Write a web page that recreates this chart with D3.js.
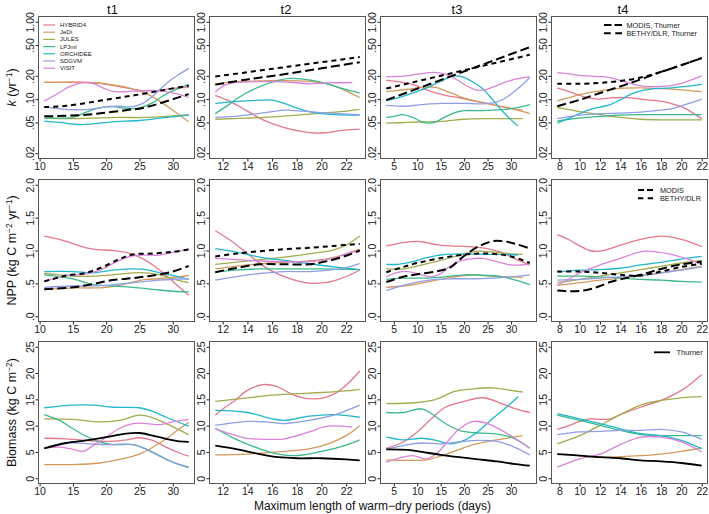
<!DOCTYPE html>
<html><head><meta charset="utf-8">
<script src="https://cdn.jsdelivr.net/npm/d3@7"></script>
<style>
body{margin:0;background:#fff}
svg{display:block}
text{font-family:"Liberation Sans",Arial,Helvetica,sans-serif}
</style></head>
<body><svg id="c" width="709" height="514"></svg>
<script>
// ---------------- data ----------------
const models = ["HYBRID4","JeDi","JULES","LPJml","ORCHIDEE","SDGVM","VISIT"];
const modelColors = ["#E5788C","#D39A5C","#A4AB4E","#3BB98B","#22B7CB","#8F9EE8","#DA82DA"];
const periods = ["t1","t2","t3","t4"];
const xExtents = [[10.7,32.4],[11.4,23.1],[3.4,34.2],[7.8,22]];
const xTickValues = [[10,15,20,25,30],[12,14,16,18,20,22],[5,10,15,20,25,30],[8,10,12,14,16,18,20,22]];
const kTicks = [0.02,0.05,0.1,0.2,0.5,1];
const kTickLabels = [".02",".05",".10",".20",".50","1.00"];
const nppTicks = [0,0.5,1,1.5,2];
const nppTickLabels = [".0",".5","1.0","1.5","2.0"];
const bioTicks = [0,5,10,15,20,25];
const bioTickLabels = ["0","5","10","15","20","25"];

// k (turnover rate, yr-1)
const k_t1 = {
 HYBRID4:[[10.7,.165],[13,.165],[16,.166],[18,.163],[20,.155],[22,.145],[24,.135],[26,.128],[28,.13],[30,.138],[32.4,.142]],
 JeDi:[[10.7,.165],[13,.165],[16,.165],[18,.163],[20,.158],[22,.148],[24,.135],[26,.118],[28,.095],[30,.072],[32.4,.051]],
 JULES:[[10.7,.057],[14,.056],[18,.057],[22,.058],[26,.058],[29,.06],[32.4,.063]],
 LPJml:[[10.7,.057],[13,.057],[15,.058],[17,.068],[19,.077],[21,.08],[23,.076],[25,.077],[27,.09],[28.5,.11],[30,.128],[32.4,.155]],
 ORCHIDEE:[[10.7,.052],[13,.05],[16,.047],[18,.048],[21,.051],[25,.053],[29,.058],[32.4,.062]],
 SDGVM:[[10.7,.08],[13,.075],[16,.073],[18,.075],[20,.08],[22,.081],[24,.08],[25.5,.088],[27,.11],[28.5,.145],[30,.185],[31.2,.215],[32.4,.25]],
 VISIT:[[10.7,.095],[12.5,.115],[14.5,.145],[16.5,.163],[18,.16],[19.5,.14],[21,.126],[23,.125],[25,.128],[27,.13],[29,.125],[31,.115],[32.4,.105]],
 MODIS:[[10.7,.06],[14,.061],[17,.063],[20,.067],[23,.072],[25.5,.077],[28,.088],[30.5,.103],[32.4,.116]],
 BETHY:[[10.7,.079],[14,.082],[20.5,.1],[25,.115],[29,.133],[32.4,.149]]
};
const k_t2 = {
 HYBRID4:[[11.4,.112],[12.5,.095],[13.5,.078],[14.5,.063],[15.5,.052],[17,.043],[18.5,.038],[19.5,.0365],[20.5,.037],[22,.04],[23.1,.041]],
 JeDi:[[11.4,.157],[13,.168],[15,.172],[17,.174],[19,.17],[20,.163],[21,.148],[22,.128],[23.1,.105]],
 JULES:[[11.4,.055],[14,.057],[16,.059],[18,.062],[20,.066],[22,.07],[23.1,.074]],
 LPJml:[[11.4,.065],[12.5,.085],[13.5,.11],[15,.145],[16.5,.175],[17.5,.185],[18.5,.182],[20,.165],[21.5,.14],[23.1,.12]],
 ORCHIDEE:[[11.4,.088],[13,.093],[15,.097],[16,.097],[17,.088],[18,.077],[19,.069],[20,.065],[21,.063],[23.1,.062]],
 SDGVM:[[11.4,.058],[13,.06],[14.5,.064],[16,.069],[17,.072],[18.5,.07],[20,.067],[21.5,.065],[23.1,.063]],
 VISIT:[[11.4,.124],[12.3,.155],[13.5,.166],[16,.168],[18,.163],[19,.158],[20.5,.162],[22.5,.164]],
 MODIS:[[11.4,.154],[14,.18],[17,.21],[20,.25],[23.1,.30]],
 BETHY:[[11.4,.196],[17.25,.262],[23.1,.35]]
};
const k_t3 = {
 HYBRID4:[[3.4,.175],[6,.168],[9,.155],[11,.14],[13,.125],[16,.112],[19,.104],[22,.096],[25,.088],[28,.08],[31,.074],[32.5,.072]],
 JeDi:[[3.4,.125],[6,.13],[9,.137],[12,.143],[14,.142],[16,.128],[18,.115],[20,.103],[23,.092],[26,.085],[29,.078],[31,.073],[34,.065]],
 JULES:[[3.4,.049],[8,.05],[12,.051],[16,.052],[20,.055],[25,.056],[32.5,.056]],
 LPJml:[[3.4,.058],[5,.06],[7,.063],[9,.058],[11,.051],[12.5,.049],[14,.051],[16,.059],[18,.067],[20,.071],[24,.071],[28,.073],[31,.077],[34,.085]],
 ORCHIDEE:[[3.4,.096],[6,.105],[9,.12],[12,.14],[15,.17],[17.5,.198],[19.5,.196],[22,.165],[24,.135],[26,.1],[28,.072],[30,.054],[31.5,.045]],
 SDGVM:[[3.4,.083],[7,.081],[11,.085],[15,.088],[20,.088],[24,.087],[27,.092],[29,.105],[31,.13],[32.5,.155],[34,.19]],
 VISIT:[[3.4,.195],[7,.198],[10,.21],[13.5,.222],[16,.21],[18,.185],[20,.155],[22,.135],[23.5,.13],[25,.135],[27,.15],[30,.175],[34,.195]],
 MODIS:[[3.4,.097],[34,.47]],
 BETHY:[[3.4,.137],[34,.374]]
};
const k_t4 = {
 HYBRID4:[[7.8,.14],[9,.125],[10,.112],[11,.103],[12,.1],[13,.104],[14,.105],[15,.104],[16,.1],[17,.097],[18,.094],[19,.088],[20,.08],[21,.068],[22,.056]],
 JeDi:[[7.8,.095],[9,.105],[10,.114],[11,.122],[12,.128],[13,.133],[14,.138],[16,.14],[18,.137],[20,.132],[22,.125]],
 JULES:[[7.8,.078],[9,.073],[10,.069],[12,.063],[14,.058],[16,.055],[18,.054],[20,.054],[22,.054]],
 LPJml:[[7.8,.052],[9,.055],[10,.057],[12,.06],[14,.062],[16,.063],[18,.063],[20,.063],[22,.063]],
 ORCHIDEE:[[7.8,.049],[9,.057],[10,.065],[11,.073],[12,.079],[13,.085],[14,.098],[15,.115],[16,.128],[17,.135],[18,.138],[19,.14],[20.5,.146],[22,.155]],
 SDGVM:[[7.8,.056],[10,.062],[12,.065],[14,.066],[16,.068],[18,.072],[19,.075],[20,.082],[21,.09],[22,.1]],
 VISIT:[[7.8,.22],[9,.212],[10,.203],[12,.196],[13,.19],[14,.175],[15,.16],[16,.148],[17,.145],[18,.146],[19,.15],[20,.16],[21,.178],[22,.2]],
 MODIS:[[7.8,.081],[10,.098],[12,.12],[14,.146],[16,.18],[18,.225],[20,.275],[22,.34]],
 BETHY:[[7.8,.158],[10,.158],[12,.162],[14,.172],[16,.19],[18,.225],[20,.275],[22,.34]]
};

// NPP (kg C m-2 yr-1)
const npp_t1 = {
 HYBRID4:[[10.7,1.22],[12.5,1.18],[14,1.14],[16,1.07],[18,1.02],[21,1.0],[23,.97],[25,.9],[27,.78],[29,.62],[31,.44],[32.4,.32]],
 JeDi:[[10.7,.41],[13,.42],[15,.43],[18,.43],[20,.44],[22,.47],[24,.52],[26,.56],[28,.57],[30,.59],[32.4,.62]],
 JULES:[[10.7,.65],[13,.63],[15,.61],[18,.61],[21,.63],[24,.66],[26,.66],[28,.63],[30,.57],[32.4,.51]],
 LPJml:[[10.7,.63],[13,.6],[15,.57],[17,.51],[18,.48],[21,.46],[24,.44],[27,.41],[30,.38],[32.4,.37]],
 ORCHIDEE:[[10.7,.68],[15,.68],[18,.66],[21,.7],[24,.72],[26,.71],[28,.66],[30,.62],[32.4,.56]],
 SDGVM:[[10.7,.44],[15,.46],[20,.47],[24,.51],[28,.55],[32.4,.57]],
 VISIT:[[10.7,.53],[12.5,.58],[14,.62],[17,.64],[19,.7],[21,.8],[22.5,.87],[24,.92],[26,.93],[28,.93],[30,.97],[32.4,1.02]],
 MODIS:[[10.7,.41],[15,.44],[18,.49],[21,.55],[24,.58],[27,.62],[30,.68],[32.4,.765]],
 BETHY:[[10.7,.53],[12.5,.58],[14,.62],[17,.66],[19.5,.75],[22,.87],[24,.94],[27,.955],[30,.98],[32.4,1.015]]
};
const npp_t2 = {
 HYBRID4:[[11.4,1.30],[12.5,1.17],[13.5,1.03],[14.5,.88],[15.5,.74],[16.5,.64],[17.5,.57],[18.5,.52],[19.3,.5],[20.3,.51],[21.5,.57],[22.3,.63],[23.1,.7]],
 JeDi:[[11.4,.72],[13,.76],[14.5,.79],[16,.81],[18,.83],[20,.86],[21.5,.92],[23.1,1.02]],
 JULES:[[11.4,.79],[13,.82],[15,.86],[17,.9],[19,.95],[21,1.01],[22,1.08],[23.1,1.22]],
 LPJml:[[11.4,.67],[13,.7],[15,.72],[17,.72],[20,.72],[23.1,.71]],
 ORCHIDEE:[[11.4,1.03],[13,.98],[15,.9],[17,.85],[19,.8],[21,.75],[23.1,.71]],
 SDGVM:[[11.4,.55],[13,.6],[15,.65],[17,.68],[19,.68],[21,.71],[22,.74],[23.1,.8]],
 VISIT:[[11.4,.88],[13,.86],[15,.84],[17,.83],[19,.83],[20,.85],[21,.88],[22,.95],[23.1,1.0]],
 MODIS:[[11.4,.67],[13,.73],[15,.79],[17,.79],[19,.79],[20.5,.84],[22,.92],[23.1,1.0]],
 BETHY:[[11.4,.91],[13,.95],[15,.99],[17,1.02],[19,1.04],[21,1.07],[23.1,1.1]]
};
const npp_t3 = {
 HYBRID4:[[3.4,1.07],[7,1.12],[10,1.14],[12,1.12],[14,1.09],[17,1.07],[21,1.06],[25,1.03],[28,.97],[31,.87],[34,.78]],
 JeDi:[[3.4,.44],[7,.46],[10,.49],[14,.55],[18,.6],[22,.63],[26,.61],[30,.6],[32.5,.59]],
 JULES:[[3.4,.72],[7,.72],[11,.78],[15,.85],[19,.93],[23,.99],[27,.97],[30,.95],[32.5,.94]],
 LPJml:[[3.4,.56],[7,.58],[12,.58],[16,.6],[20,.63],[25,.62],[28,.6],[31,.55],[34,.48]],
 ORCHIDEE:[[3.4,.79],[6,.79],[9,.83],[12,.89],[16,.94],[20,.95],[25,.94],[29,.94],[31.5,.93]],
 SDGVM:[[3.4,.39],[7,.47],[10,.52],[14,.56],[18,.57],[22,.57],[26,.58],[30,.6],[34,.63]],
 VISIT:[[3.4,.6],[6,.67],[8,.68],[10,.65],[13,.6],[15,.65],[17,.76],[19,.84],[21,.87],[24,.88],[27,.83],[30,.78],[34,.79]],
 MODIS:[[3.4,.52],[7,.6],[10,.64],[14,.68],[17,.74],[19,.86],[21,.97],[23,1.06],[26,1.14],[28.5,1.14],[31,1.1],[34,1.03]],
 BETHY:[[3.4,.67],[7,.75],[10,.81],[14,.87],[18,.92],[22,.95],[26,.95],[30,.91],[34,.81]]
};
const npp_t4 = {
 HYBRID4:[[7.8,1.24],[9,1.16],[10,1.07],[11,1.0],[12,.99],[13,1.03],[14,1.08],[16,1.17],[18,1.22],[20,1.17],[22,1.06]],
 JeDi:[[7.8,.47],[10,.51],[12,.55],[14,.58],[16,.62],[18,.66],[20,.71],[22,.76]],
 JULES:[[7.8,.51],[10,.56],[12,.61],[14,.66],[16,.71],[18,.76],[20,.81],[22,.85]],
 LPJml:[[7.8,.61],[10,.61],[12,.6],[14,.58],[16,.56],[18,.55],[20,.53],[22,.52]],
 ORCHIDEE:[[7.8,.67],[10,.7],[12,.71],[14,.73],[16,.78],[18,.82],[20,.87],[22,.91]],
 SDGVM:[[7.8,.55],[10,.56],[12,.58],[14,.6],[16,.62],[18,.66],[20,.7],[22,.75]],
 VISIT:[[7.8,.47],[9,.57],[10,.66],[12,.78],[14,.88],[15.5,.96],[16.5,.99],[17.5,.98],[19,.94],[21,.85],[22,.79]],
 MODIS:[[7.8,.39],[9,.38],[10,.385],[11,.41],[12,.46],[13,.52],[14,.56],[16,.63],[18,.72],[20,.79],[22,.83]],
 BETHY:[[7.8,.68],[10,.68],[12,.66],[14,.63],[16,.62],[18,.68],[20,.75],[22,.8]]
};

// Biomass (kg C m-2)
const bio_t1 = {
 HYBRID4:[[10.7,7.6],[14,7.5],[17,7.2],[20,7.0],[23,7.3],[25,7.7],[27,7.2],[29,5.9],[31,4.8],[32.4,4.2]],
 JeDi:[[10.7,2.6],[15,2.6],[19,2.9],[22,3.6],[25,4.6],[27,5.9],[29,7.5],[31,9.4],[32.4,10.6]],
 JULES:[[10.7,11.3],[15,11.2],[19,10.7],[22,11.0],[25,12.0],[27,11.5],[29,10.4],[32.4,8.3]],
 LPJml:[[10.7,12.1],[13,11.0],[15,9.4],[17,8.0],[19,6.9],[21,6.4],[24,6.4],[26,5.6],[28,4.3],[30,3.05],[32.4,2.0]],
 ORCHIDEE:[[10.7,13.4],[15,13.9],[18,13.9],[21,13.5],[25,13.4],[27,12.7],[29,11.6],[32.4,9.9]],
 SDGVM:[[10.7,5.7],[14,6.7],[17,6.6],[20,6.4],[24,6.4],[26,5.5],[28,4.2],[30,3.05],[32.4,2.1]],
 VISIT:[[10.7,5.7],[13,5.9],[15,5.5],[16.5,5.1],[18,6.2],[20,7.8],[22,9.5],[24,10.4],[26,10.4],[28,10.2],[30,10.7],[32.4,11.2]],
 Thurner:[[10.7,5.7],[14,6.7],[17,7.2],[20,7.8],[23,8.5],[25,8.6],[27,8.1],[29,7.5],[31,7.0],[32.4,6.9]]
};
const bio_t2 = {
 HYBRID4:[[11.4,12.0],[12.2,13.5],[13,14.8],[14,16.7],[15.3,17.8],[16.3,17.5],[17.5,16.1],[18.5,15.3],[19.3,15.1],[20.2,15.3],[21,16.0],[22,17.7],[23.1,20.4]],
 JeDi:[[11.4,4.45],[14,4.6],[17,5.1],[19,5.6],[20.5,6.5],[22,8.1],[23.1,10.0]],
 JULES:[[11.4,14.6],[14,15.3],[16,15.8],[18,16.1],[20,16.3],[22,16.6],[23.1,16.9]],
 LPJml:[[11.4,9.5],[13,7.5],[15,5.6],[16.5,4.6],[18,4.3],[20,5.1],[22,6.3],[23.1,7.3]],
 ORCHIDEE:[[11.4,12.9],[14,12.5],[16,11.3],[17,11.0],[19,11.8],[21,12.1],[23.1,11.6]],
 SDGVM:[[11.4,10.05],[14,10.8],[15.5,10.7],[17,10.4],[19,11.0],[21,12.0],[23.1,13.9]],
 VISIT:[[11.4,9.4],[13,8.2],[14,7.6],[16,7.4],[17,7.5],[19,8.8],[20.5,9.9],[22.5,9.7]],
 Thurner:[[11.4,6.2],[13,5.6],[15,4.6],[16.5,4.0],[18,3.8],[20,3.8],[22,3.6],[23.1,3.4]]
};
const bio_t3 = {
 HYBRID4:[[3.4,5.7],[7,6.9],[10,8.8],[13,11.3],[16,13.5],[20,14.6],[24,15.3],[28,14.2],[31,13.2],[34,12.5]],
 JeDi:[[3.4,3.5],[8,3.4],[12,3.5],[15,4.2],[19,5.5],[22,6.4],[25,7.0],[29,7.6],[32.5,8.1]],
 JULES:[[3.4,14.2],[10,14.4],[14,15.0],[18,16.5],[22,17.0],[26,17.2],[30,16.7],[32.5,16.4]],
 LPJml:[[3.4,12.5],[7,12.5],[11,13.2],[13,12.3],[16,10.4],[19,9.1],[22,8.65],[26,8.5],[30,7.8],[34,5.7]],
 ORCHIDEE:[[3.4,7.8],[7,7.3],[11,7.6],[14,7.2],[17,6.55],[20,7.2],[23,8.9],[26,11.3],[29,13.5],[31.5,15.5]],
 SDGVM:[[3.4,5.5],[8,6.4],[11,6.7],[15,6.55],[19,6.9],[23,7.2],[27,7.0],[30,6.2],[34,4.45]],
 VISIT:[[3.4,3.05],[6,3.8],[9,4.3],[12,3.7],[14,4.6],[17,7.5],[19,9.4],[22,10.8],[25,10.4],[28,9.1],[31,7.5],[34,5.7]],
 Thurner:[[3.4,5.5],[8,5.4],[11,5.0],[15,4.45],[19,4.0],[23,3.6],[27,3.2],[31,2.7],[34,2.4]]
};
const bio_t4 = {
 HYBRID4:[[7.8,9.3],[9,10.05],[10,10.8],[11,11.3],[12,11.2],[13,11.3],[14,12.1],[16,13.5],[18,14.8],[20,16.7],[22,19.7]],
 JeDi:[[7.8,4.6],[10,4.3],[12,4.0],[14,4.1],[16,4.3],[18,4.6],[20,5.1],[22,5.8]],
 JULES:[[7.8,6.55],[10,8.1],[12,10.05],[14,12.1],[16,13.9],[18,14.8],[20,15.3],[22,15.5]],
 LPJml:[[7.8,12.0],[10,11.0],[12,10.05],[14,9.1],[16,8.3],[18,8.1],[20,8.1],[22,8.1]],
 ORCHIDEE:[[7.8,12.3],[10,11.3],[12,10.4],[14,9.4],[16,8.5],[18,8.1],[20,7.2],[22,5.6]],
 SDGVM:[[7.8,8.3],[10,8.8],[12,8.9],[14,9.1],[16,9.1],[18,9.3],[20,8.8],[22,7.4]],
 VISIT:[[7.8,2.1],[10,3.7],[12,4.6],[14,6.4],[16,7.8],[18,7.8],[20,6.9],[22,5.0]],
 Thurner:[[7.8,4.6],[10,4.3],[12,4.0],[14,3.8],[16,3.4],[18,3.2],[20,2.9],[22,2.4]]
};

const refStyles = {
 MODIS:{color:"#000",dash:"9,4",width:2},
 BETHY:{color:"#000",dash:"5,4",width:2},
 Thurner:{color:"#000",dash:null,width:1.8}
};

// ---------------- layout ----------------
const svg = d3.select("#c");
const colLeft = [38.5, 209.5, 380.5, 551.5];
const rowTop = [16.5, 179.5, 341.5];
const W = 156, H = 142;
const titleX = [112.5, 286, 457, 623];

const rows = [
 {data:[k_t1,k_t2,k_t3,k_t4], log:true, dom:[0.02,1], ticks:kTicks, labels:kTickLabels},
 {data:[npp_t1,npp_t2,npp_t3,npp_t4], log:false, dom:[0,2], ticks:nppTicks, labels:nppTickLabels},
 {data:[bio_t1,bio_t2,bio_t3,bio_t4], log:false, dom:[0,25], ticks:bioTicks, labels:bioTickLabels}
];

function padExtent(lo,hi){const d=(hi-lo)*0.04;return [lo-d,hi+d];}

rows.forEach((row,ri)=>{
 const top = rowTop[ri], bottom = top+H;
 let y;
 if(row.log){
   const l0=Math.log10(row.dom[0]), l1=Math.log10(row.dom[1]), d=(l1-l0)*0.04;
   y = d3.scaleLog().domain([Math.pow(10,l0-d),Math.pow(10,l1+d)]).range([bottom,top]);
 } else {
   y = d3.scaleLinear().domain(padExtent(row.dom[0],row.dom[1])).range([bottom,top]);
 }
 periods.forEach((p,ci)=>{
   const left = colLeft[ci];
   const x = d3.scaleLinear().domain(padExtent(xExtents[ci][0],xExtents[ci][1])).range([left,left+W]);
   const g = svg.append("g");
   const gx = g.append("g").attr("transform",`translate(0,${bottom})`)
     .call(d3.axisBottom(x).tickValues(xTickValues[ci]).tickSize(3).tickPadding(1.5).tickFormat(d3.format("d")));
   gx.select(".domain").remove();
   gx.attr("font-family",null).attr("font-size",10.5).attr("color","#222");
   const gy = g.append("g").attr("transform",`translate(${left},0)`)
     .call(d3.axisLeft(y).tickValues(row.ticks).tickSize(3).tickFormat((d,i)=>row.labels[i]));
   gy.select(".domain").remove();
   gy.attr("font-family",null).attr("font-size",10.5).attr("color","#222");
   gy.selectAll("text").attr("transform","rotate(-90)").attr("x",0).attr("y",-4.5).attr("dy",null).attr("text-anchor","middle");
   const line = d3.line().x(d=>x(d[0])).y(d=>y(d[1])).curve(d3.curveCatmullRom.alpha(0.5));
   const data = row.data[ci];
   models.forEach((m,mi)=>{
     if(!data[m]) return;
     g.append("path").attr("d",line(data[m])).attr("fill","none")
      .attr("stroke",modelColors[mi]).attr("stroke-width",1.3);
   });
   ["Thurner","BETHY","MODIS"].forEach(r=>{
     if(!data[r]) return;
     const s=refStyles[r];
     g.append("path").attr("d",line(data[r])).attr("fill","none")
      .attr("stroke",s.color).attr("stroke-width",s.width)
      .attr("stroke-dasharray",s.dash);
   });
   g.append("rect").attr("x",left).attr("y",top).attr("width",W).attr("height",H)
    .attr("fill","none").attr("stroke","#555").attr("stroke-width",1);
   if(ri===0){
     svg.append("text").attr("x",titleX[ci]).attr("y",13.5).attr("text-anchor","middle")
       .attr("font-size",13).attr("fill","#111").text(p);
   }
 });
});

// model legend (top-left panel)
const lg = svg.append("g");
models.forEach((m,i)=>{
  const yy = 25 + i*7.2;
  lg.append("line").attr("x1",43.3).attr("x2",55).attr("y1",yy).attr("y2",yy)
    .attr("stroke",modelColors[i]).attr("stroke-width",1.2);
  lg.append("text").attr("x",60).attr("y",yy+2).attr("font-size",6).attr("fill","#222").text(m);
});

// reference legends: two dashes per symbol, sized to the symbol length
function refLegend(items, x1, x2, tx, y0, fs){
  const len = x2 - x1;
  items.forEach((it,i)=>{
    const yy = y0 + i*8.3, s = refStyles[it.key];
    let dash = null;
    if(it.key==="MODIS"){ const gap=3; dash = `${(len-gap)/2},${gap}`; }
    if(it.key==="BETHY"){ const gap=4.5; dash = `${(len-gap)/2},${gap}`; }
    svg.append("line").attr("x1",x1).attr("x2",x2).attr("y1",yy).attr("y2",yy)
      .attr("stroke","#000").attr("stroke-width",s.width).attr("stroke-dasharray",dash);
    svg.append("text").attr("x",tx).attr("y",yy+2.6).attr("font-size",fs).attr("fill","#222").text(it.label);
  });
}
refLegend([{key:"MODIS",label:"MODIS, Thurner"},{key:"BETHY",label:"BETHY/DLR, Thurner"}], 604, 622, 626.5, 25, 7.3);
refLegend([{key:"MODIS",label:"MODIS"},{key:"BETHY",label:"BETHY/DLR"}], 638, 653, 660, 190, 7.3);
refLegend([{key:"Thurner",label:"Thurner"}], 654, 670, 676.5, 352.3, 7.5);

// row titles
function rowTitle(ri, parts){
  const t = svg.append("text").attr("transform",`translate(16,${rowTop[ri]+H/2}) rotate(-90)`)
    .attr("text-anchor","middle").attr("font-size",12.5).attr("fill","#111");
  parts.forEach(p=>{
    const ts = t.append("tspan").text(p.t);
    if(p.it) ts.attr("font-style","italic");
    if(p.sup){ ts.attr("dy",-4.5).attr("font-size",8.5); }
    if(p.down){ ts.attr("dy",4.5); }
  });
}
rowTitle(0,[{t:"k",it:true},{t:" (yr"},{t:"\u22121",sup:true},{t:")",down:true}]);
rowTitle(1,[{t:"NPP (kg C m"},{t:"\u22122",sup:true},{t:" yr",down:true},{t:"\u22121",sup:true},{t:")",down:true}]);
rowTitle(2,[{t:"Biomass (kg C m"},{t:"\u22122",sup:true},{t:")",down:true}]);

// x title
svg.append("text").attr("x",372.5).attr("y",510).attr("text-anchor","middle")
  .attr("font-size",12).attr("fill","#111").text("Maximum length of warm\u2212dry periods (days)");
</script></body></html>
